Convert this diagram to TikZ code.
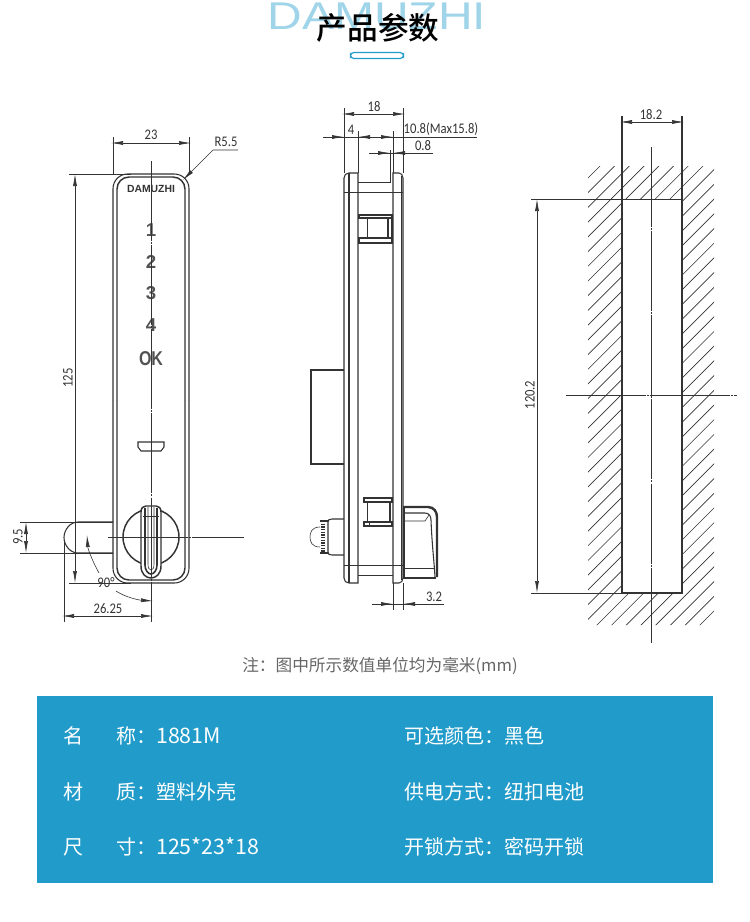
\documentclass[tikz,border=0pt]{standalone}
\usepackage{fontspec}
\setmainfont{Carlito}
\newfontfamily\cjk{Noto Sans CJK SC}
\newfontfamily\titlefont[UprightFont=* Medium]{Noto Sans CJK SC}
\newfontfamily\logofont{Liberation Sans}
\usetikzlibrary{arrows.meta}
\definecolor{panelblue}{HTML}{219BC9}
\definecolor{logoblue}{HTML}{9FD4E9}
\definecolor{inkgray}{HTML}{333333}
\definecolor{notegray}{HTML}{666666}
\newcommand{\panelnum}[1]{{\fontsize{16}{15}\selectfont #1}}
\tikzset{
    thin line/.style={draw=inkgray, line width=0.45pt},
    body line/.style={draw=inkgray, line width=0.8pt},
    heavy line/.style={draw=inkgray, line width=1.5pt},
    center line/.style={draw=inkgray, line width=0.45pt, dash pattern=on 60pt off 0.8pt on 1.5pt off 0.8pt},
    dimline/.style={thin line, {Latex[length=9pt,width=3pt]}-{Latex[length=9pt,width=3pt]}},
    dimright/.style={thin line, -{Latex[length=9pt,width=3pt]}},
    dimtext/.style={font=\fontsize{11}{11}\selectfont, text=inkgray, inner sep=0pt, xscale=0.86},
    keytext/.style={font=\logofont\bfseries\fontsize{14}{14}\selectfont, text=inkgray!85, inner sep=0pt},
    paneltext/.style={font=\cjk\fontsize{15}{15}\selectfont, text=white, inner sep=0pt, anchor=west},
}
\begin{document}
\begin{tikzpicture}[x=0.75pt, y=-0.75pt]
    \useasboundingbox (0, 0) rectangle (750, 922);

    %%title
    \node[font=\logofont\fontsize{29}{29}\selectfont, text=logoblue, xscale=1.24, inner sep=0pt] (logoback) at (377, 16){DAMUZHI};
    \node[font=\titlefont\fontsize{23}{23}\selectfont, inner sep=0pt] (title) at (378, 28){产品参数};
    \draw[draw=panelblue, line width=0.9pt, rounded corners=2.5pt] (350.5, 52.5) rectangle (403.5, 58.5);

    %%front view
    \draw[body line, rounded corners=11pt] (113, 400) to (113, 174) to (189, 174) to (189, 400);
    \draw[body line, rounded corners=11pt] (113, 400) to (113, 583) to (189, 583) to (189, 400);
    \draw[body line, line width=1.1pt, rounded corners=9pt] (117, 400) to (117, 177) to (185, 177) to (185, 400);
    \draw[body line, line width=1.1pt, rounded corners=9pt] (117, 400) to (117, 580) to (185, 580) to (185, 400);
    \node[font=\logofont\bfseries\fontsize{7.8}{8}\selectfont, text=inkgray, inner sep=0pt] (brand) at (151, 189){DAMUZHI};
    \foreach \k/\ypos in {1/230, 2/262, 3/293, 4/325}
        \node[keytext] (key\k) at (151, \ypos){\k};
    \node[keytext, font=\logofont\bfseries\fontsize{15}{15}\selectfont, xscale=0.8] (keyok) at (151, 359){OK};
    \draw[body line] (138, 442) to (164, 442) to (164, 447) to (161, 451) to (141, 451) to (138, 447) to cycle;

    %%knob and latch
    \draw[heavy line, line width=1.1pt] (151, 537) circle[radius=28];
    \draw[body line, fill=white, line width=1.1pt] (141, 512) .. controls (141, 508) and (143, 506) .. (146, 506) to (156, 506) .. controls (159, 506) and (161, 508) .. (161, 512) to (161, 566) .. controls (161, 574) and (156, 578) .. (151, 578) .. controls (146, 578) and (141, 574) .. (141, 566) to cycle;
    \draw[body line, line width=1.2pt] (145, 508) to (145, 565) .. controls (145, 570) and (148, 574) .. (151, 574) .. controls (154, 574) and (157, 570) .. (157, 565) to (157, 508);
    \draw[thin line] (148, 507) to (148, 564) .. controls (148, 568) and (149, 570) .. (151, 570) .. controls (153, 570) and (154, 568) .. (154, 564) to (154, 507);
    \draw[thin line] (143, 516) to (159, 516);
    \draw[body line] (113, 522) to (78, 522) .. controls (70, 522) and (64, 530) .. (64, 537.5) .. controls (64, 545) and (70, 553) .. (78, 553) to (113, 553);

    %%front view centre lines
    \draw[center line] (151, 161) to (151, 622);
    \draw[center line] (108, 537) to (244, 537);

    %%front view dimensions
    \draw[thin line] (113, 137) to (113, 174);
    \draw[thin line] (189, 137) to (189, 174);
    \draw[dimline] (111, 143) to (191, 143);
    \node[dimtext] (widthtext) at (151, 135){23};
    \draw[thin line] (69, 174) to (131, 174);
    \draw[thin line] (69, 583) to (131, 583);
    \draw[dimline] (75, 174) to (75, 583);
    \node[rotate=90, dimtext] (heighttext) at (68, 378){125};
    \draw[{Latex[length=9pt,width=3pt]}-, thin line] (183, 180) to (213, 150) to (238, 150);
    \node[dimtext] (radiustext) at (226, 142){R5.5};
    \draw[thin line] (20, 522) to (113, 522);
    \draw[thin line] (20, 553) to (113, 553);
    \draw[dimline] (26, 522) to (26, 553);
    \node[rotate=90, dimtext] (latchtext) at (18, 537){9.5};
    \draw[thin line] (64, 540) to (64, 622);
    \draw[dimline] (62, 616) to (153, 616);
    \node[dimtext] (reachtext) at (108, 609){26.25};
    \draw[dimright] (99, 573) .. controls (93, 562) and (88, 550) .. (87, 535);
    \draw[dimright] (116, 591) .. controls (125, 597) and (138, 600) .. (153, 601);
    \node[dimtext] (angletext) at (106, 583){90°};

    %%side view body
    \draw[body line] (344, 178) .. controls (344, 175) and (346, 173) .. (349, 173) to (358, 173) to (358, 583) to (349, 583) .. controls (346, 583) and (344, 581) .. (344, 578) to cycle;
    \draw[body line] (349, 173) to (349, 583);
    \draw[body line] (393, 173) to (399, 173) .. controls (401, 173) and (403, 175) .. (403, 178) to (403, 578) .. controls (403, 581) and (401, 583) .. (399, 583) to (393, 583) to cycle;
    \draw[thin line] (401, 176) to (401, 580);
    \draw[thin line] (344, 192) to (403, 192);
    \draw[thin line] (358, 182) to (391, 182);
    \draw[thin line] (390, 150) to (390, 182);
    \draw[thin line] (344, 565) to (403, 565);
    \draw[thin line] (358, 575) to (393, 575);

    %%side view upper clip
    \draw[body line] (359, 215) rectangle (392, 218);
    \draw[body line] (359, 238) rectangle (392, 243);
    \draw[thin line] (367, 218) to (367, 238);
    \draw[body line] (388, 218) to (388, 238);
    \draw[heavy line] (392, 215) to (392, 243);

    %%side view lower clip
    \draw[body line] (364, 498) rectangle (392, 502);
    \draw[body line] (364, 522) rectangle (392, 526);
    \draw[thin line] (367, 502) to (367, 522);
    \draw[body line] (390, 502) to (390, 522);
    \draw[thin line] (369, 522) to (369, 526);

    %%side view back plate and lock barrel
    \draw[body line] (344, 370) to (311, 370) to (311, 464) to (344, 464);
    \draw[body line] (344, 519) to (332, 519) .. controls (329, 519) and (328, 520) .. (328, 522) to (328, 552) .. controls (328, 554) and (329, 555) .. (332, 555) to (344, 555);
    \draw[inkgray, line width=3pt, dash pattern=on 1pt off 1pt] (323, 521) to (323, 554);
    \draw[body line] (320, 521) to (328, 521);
    \draw[body line] (320, 553) to (328, 553);
    \draw[thin line] (320, 527) .. controls (312, 527) and (310, 532) .. (310, 537) .. controls (310, 542) and (312, 547) .. (320, 547);

    %%side view knob
    \draw[body line] (404, 506) to (404, 578) to (436, 578);
    \draw[heavy line, line width=1.8pt] (404, 507) to (428, 507) .. controls (434, 507) and (437, 512) .. (437, 517) to (437, 577);
    \draw[body line] (404, 513) to (425, 513) .. controls (429, 513) and (431, 516) .. (431, 520) .. controls (432, 545) and (434, 560) .. (435, 577);
    \draw[thin line] (404, 521) to (425, 521) to (429, 515);
    \draw[thin line] (404, 568) to (435, 568);

    %%side view dimensions
    \draw[thin line] (344, 108) to (344, 173);
    \draw[thin line] (358, 131) to (358, 173);
    \draw[thin line] (393, 131) to (393, 173);
    \draw[thin line] (403, 108) to (403, 173);
    \draw[dimline] (342, 114) to (405, 114);
    \node[dimtext] (depthtext) at (374, 107){18};
    \draw[thin line] (323, 137) to (477, 137);
    \draw[dimright] (323, 137) to (344, 137);
    \draw[dimright] (378, 137) to (358, 137);
    \draw[dimright] (375, 137) to (393, 137);
    \node[dimtext] (stemtext) at (351, 130){4};
    \node[dimtext] (maxtext) at (441, 129){10.8(Max15.8)};
    \draw[thin line] (369, 153) to (433, 153);
    \draw[dimright] (369, 153) to (390, 153);
    \draw[dimright] (408, 153) to (393, 153);
    \node[dimtext] (gaptext) at (423, 146){0.8};
    \draw[thin line] (393, 583) to (393, 610);
    \draw[thin line] (403, 583) to (403, 610);
    \draw[thin line] (372, 604) to (444, 604);
    \draw[dimright] (372, 604) to (393, 604);
    \draw[dimright] (414, 604) to (403, 604);
    \node[dimtext] (offsettext) at (434, 597){3.2};

    %%cut-out view hatching
    \begin{scope}[even odd rule]
        \clip (588, 166) rectangle (714, 625) (622, 199) rectangle (682, 593);
        \foreach \k in {0,...,62}
            \draw[draw=inkgray, line width=0.5pt] ({766+14.71*\k-100}, 100) to ({766+14.71*\k-700}, 700);
    \end{scope}

    %%cut-out view outline
    \draw[body line] (622, 116) to (622, 593) to (682, 593) to (682, 116);
    \draw[thin line] (531, 199) to (682, 199);
    \draw[thin line] (531, 593) to (622, 593);
    \draw[dimline] (620, 122) to (684, 122);
    \node[dimtext] (slottext) at (651, 115){18.2};
    \draw[dimline] (537, 199) to (537, 593);
    \node[rotate=90, dimtext] (slotheight) at (530, 395){120.2};
    \draw[center line] (651, 147) to (651, 643);
    \draw[center line] (566, 395) to (737, 395);

    %%footnote
    \node[font=\cjk\fontsize{12.5}{13}\selectfont, text=notegray, inner sep=0pt] (footnote) at (380, 666){注：图中所示数值单位均为毫米(mm)};

    %%spec panel
    \fill[panelblue] (37, 696) rectangle (713, 883);
    \node[paneltext] (nameleft) at (63, 736){名};
    \node[paneltext] (nameright) at (116, 736){称：\panelnum{1881M}};
    \node[paneltext] (colorspec) at (404, 736){可选颜色：黑色};
    \node[paneltext] (materialleft) at (63, 792){材};
    \node[paneltext] (materialright) at (116, 792){质：塑料外壳};
    \node[paneltext] (powerspec) at (404, 792){供电方式：纽扣电池};
    \node[paneltext] (sizeleft) at (63, 847){尺};
    \node[paneltext] (sizeright) at (116, 847){寸：\panelnum{125*23*18}};
    \node[paneltext] (lockspec) at (404, 847){开锁方式：密码开锁};
\end{tikzpicture}
\end{document}
